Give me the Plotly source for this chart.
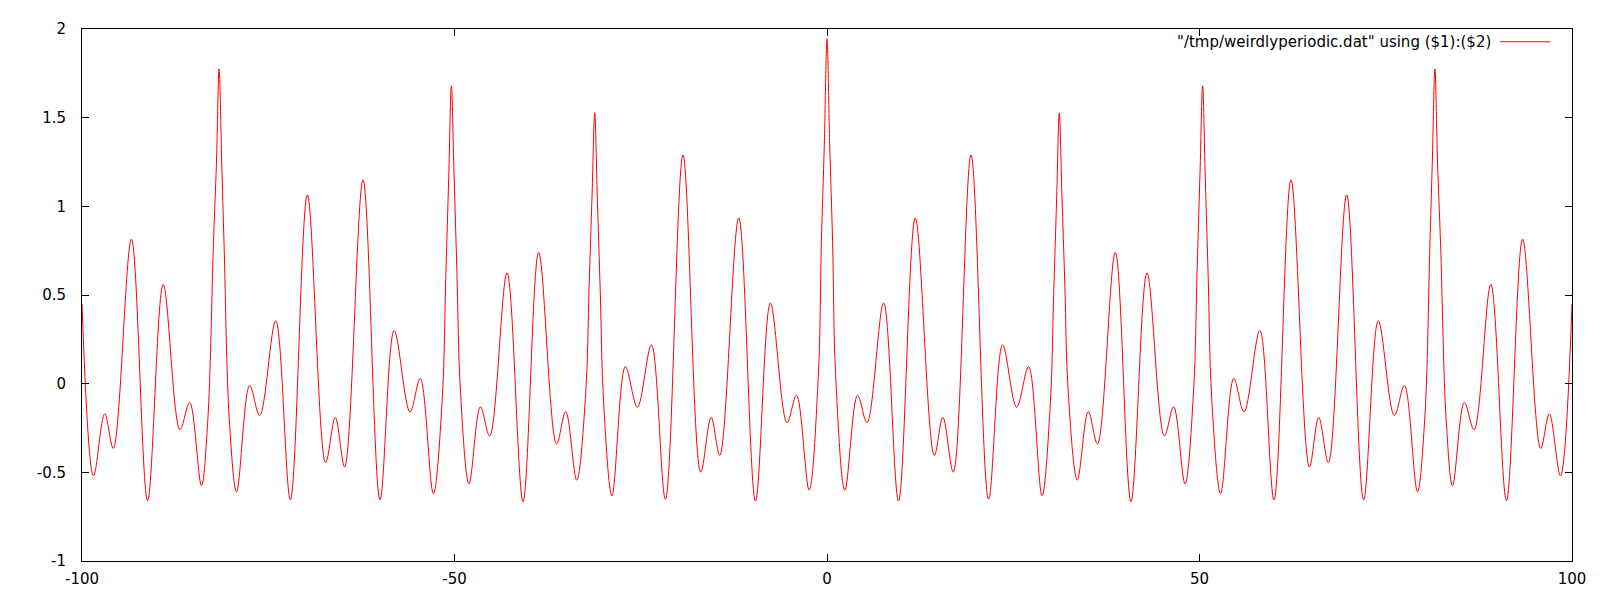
import plotly.graph_objects as go

# Points (extrema plus flank points of the sharpest peaks)
x_left = [-100.0, -98.45, -96.95, -95.8, -93.37, -91.2, -89.1, -86.85, -85.55, -83.97,
          -83.13, -82.36, -81.95, -81.6, -81.25, -80.93, -80.21, -79.25, -77.5, -76.15,
          -74.0, -72.03, -69.75, -67.3, -66.0, -64.75, -62.28, -60.0, -58.1, -55.97,
          -54.6, -52.84, -51.62, -51.17, -50.77, -50.42, -50.07, -49.67, -49.22, -48.05,
          -46.53, -45.28, -42.95, -40.8, -38.7, -36.3, -35.07, -33.6, -32.38, -31.93,
          -31.53, -31.18, -30.83, -30.43, -29.98, -28.86, -27.06, -25.45, -23.57, -21.69,
          -19.33, -16.95, -15.55, -14.4, -11.85, -9.6, -7.6, -5.37, -4.1, -2.4,
          -1.16, -0.75, -0.36, 0.0]
y_left = [0.45, -0.52, -0.17, -0.365, 0.815, -0.66, 0.56, -0.26, -0.105, -0.575,
          -0.217, 0.785, 1.25, 1.775, 1.25, 0.785, -0.217, -0.61, -0.01, -0.18,
          0.355, -0.655, 1.065, -0.445, -0.19, -0.47, 1.15, -0.655, 0.30, -0.16,
          0.03, -0.62, -0.07, 0.60, 1.17, 1.68, 1.19, 0.625, -0.03, -0.565,
          -0.13, -0.295, 0.625, -0.665, 0.74, -0.34, -0.157, -0.544, -0.05, 0.55,
          1.07, 1.527, 1.05, 0.51, -0.11, -0.632, 0.096, -0.133, 0.219, -0.652,
          1.29, -0.499, -0.19, -0.405, 0.935, -0.662, 0.455, -0.22, -0.065, -0.60,
          0.05, 0.80, 1.35, 1.945]
x_right = [0.36, 0.75, 1.16, 2.4, 4.1, 5.37, 7.6, 9.6, 11.85, 14.4,
           15.55, 16.95, 19.33, 21.69, 23.57, 25.45, 27.06, 28.86, 29.98, 30.43,
           30.83, 31.18, 31.53, 31.93, 32.38, 33.6, 35.07, 36.3, 38.7, 40.8,
           42.95, 45.28, 46.53, 48.05, 49.22, 49.67, 50.07, 50.42, 50.77, 51.17,
           51.62, 52.84, 54.6, 55.97, 58.1, 60.0, 62.28, 64.75, 66.0, 67.3,
           69.75, 72.03, 74.0, 76.15, 77.5, 79.25, 80.21, 80.93, 81.25, 81.6,
           81.95, 82.36, 83.13, 83.97, 85.55, 86.85, 89.1, 91.2, 93.37, 95.8,
           96.95, 98.45, 100.0]
y_right = [1.35, 0.80, 0.05, -0.60, -0.065, -0.22, 0.455, -0.662, 0.935, -0.405,
           -0.19, -0.499, 1.29, -0.652, 0.219, -0.133, 0.096, -0.632, -0.11, 0.51,
           1.05, 1.527, 1.07, 0.55, -0.05, -0.544, -0.157, -0.34, 0.74, -0.665,
           0.625, -0.295, -0.13, -0.565, -0.03, 0.625, 1.19, 1.68, 1.17, 0.60,
           -0.07, -0.62, 0.03, -0.16, 0.30, -0.655, 1.15, -0.47, -0.19, -0.445,
           1.065, -0.655, 0.355, -0.18, -0.01, -0.61, -0.217, 0.785, 1.25, 1.775,
           1.25, 0.785, -0.217, -0.575, -0.105, -0.26, 0.56, -0.66, 0.815, -0.365,
           -0.17, -0.52, 0.45]

x_vals = x_left + x_right
y_vals = y_left + y_right

x_ticks = [-100, -50, 0, 50, 100]
y_ticks = [-1, -0.5, 0, 0.5, 1, 1.5, 2]
legend_label = '"/tmp/weirdlyperiodic.dat" using ($1):($2)'

FONT = "DejaVu Sans"

fig = go.Figure()
fig.add_trace(go.Scatter(
    x=x_vals, y=y_vals, mode="lines",
    line=dict(color="#ff0000", width=1, shape="spline", smoothing=1.0),
    showlegend=False, hoverinfo="skip"))

axis_common = dict(
    showgrid=False, zeroline=False, showline=True, linecolor="black", linewidth=1,
    mirror="ticks", ticks="inside", ticklen=7, tickcolor="black", tickwidth=1,
    tickfont=dict(family=FONT, size=15, color="black"))

fig.update_xaxes(range=[-100, 100], tickvals=x_ticks,
                 ticktext=[str(v) for v in x_ticks], ticklabelstandoff=4, **axis_common)
fig.update_yaxes(range=[-1, 2], tickvals=y_ticks,
                 ticktext=[("%g" % v) for v in y_ticks], ticklabelstandoff=12, **axis_common)

fig.update_layout(
    width=1592, height=592,
    margin=dict(l=74, r=28, t=14, b=39),
    paper_bgcolor="white", plot_bgcolor="white",
    annotations=[dict(x=0.947, y=0.976, xref="paper", yref="paper", text=legend_label,
                      showarrow=False, xanchor="right", yanchor="middle",
                      font=dict(family=FONT, size=15, color="black"))],
    shapes=[dict(type="line", xref="paper", yref="paper", x0=0.9517, x1=0.9852,
                 y0=0.976, y1=0.976, line=dict(color="#ff0000", width=1))],
)

fig.write_html("out.html")
